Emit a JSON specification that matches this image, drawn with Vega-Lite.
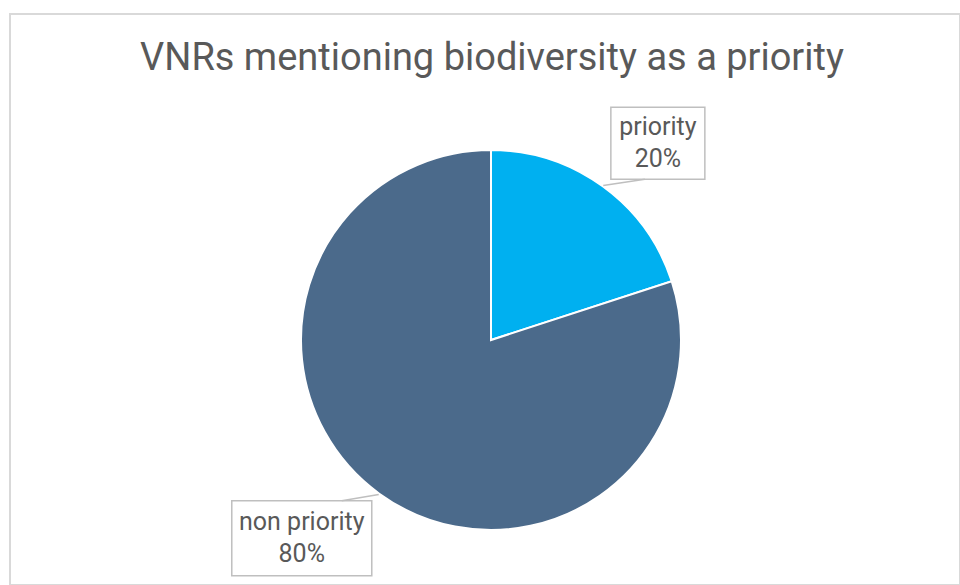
{
  "$schema": "https://vega.github.io/schema/vega-lite/v6.json",
  "autosize": "none",
  "width": 950,
  "height": 571,
  "padding": {"left": 10, "top": 14, "right": 0, "bottom": 0},
  "background": "white",
  "config": {"view": {"stroke": "#D9D9D9", "strokeWidth": 2}, "font": "Roboto"},
  "title": {
    "text": "VNRs mentioning biodiversity as a priority",
    "fontSize": 38,
    "fontWeight": "normal",
    "color": "#595959",
    "font": "Roboto",
    "anchor": "middle",
    "frame": "group",
    "baseline": "alphabetic",
    "offset": -94,
    "dx": 7
  },
  "data": {
    "values": [
      {"category": "priority", "value": 20},
      {"category": "non priority", "value": 80}
    ]
  },
  "transform": [
    {"calculate": "datum.category === 'priority' ? 0 : 1", "as": "order"},
    {"joinaggregate": [{"op": "sum", "field": "value", "as": "total"}]},
    {"window": [{"op": "sum", "field": "value", "as": "cum"}], "sort": [{"field": "order"}], "frame": [null, 0]},
    {"calculate": "2*PI*(datum.cum - datum.value/2)/datum.total", "as": "mid"},
    {"calculate": "datum.category === 'priority' ? 258 : 274", "as": "lr"},
    {"calculate": "datum.mid + (datum.category === 'priority' ? 0.075 : 0.134)", "as": "la"},
    {"calculate": "datum.lr*sin(datum.la)", "as": "lx"},
    {"calculate": "datum.lr*cos(datum.la)", "as": "ly"},
    {"calculate": "datum.category === 'priority' ? 47 : 70", "as": "hw"},
    {"calculate": "datum.category === 'priority' ? 36 : 37.5", "as": "hh"},
    {"calculate": "datum.lx - datum.hw", "as": "bx1"},
    {"calculate": "datum.lx + datum.hw", "as": "bx2"},
    {"calculate": "datum.ly - datum.hh", "as": "by1"},
    {"calculate": "datum.ly + datum.hh", "as": "by2"},
    {"calculate": "191*sin(datum.mid)", "as": "sx"},
    {"calculate": "191*cos(datum.mid)", "as": "sy"},
    {"calculate": "datum.lx + (datum.category === 'priority' ? -13 : 40)", "as": "ex"},
    {"calculate": "datum.ly + (datum.category === 'priority' ? -datum.hh : datum.hh)", "as": "ey"},
    {"calculate": "[datum.category, datum.value + '%']", "as": "label"}
  ],
  "layer": [
    {
      "mark": {"type": "arc", "outerRadius": 190, "stroke": "white", "strokeWidth": 2},
      "encoding": {
        "x": {"datum": 0, "type": "quantitative", "scale": {"domain": [-481, 469], "nice": false, "zero": false}, "axis": null},
        "y": {"datum": 0, "type": "quantitative", "scale": {"domain": [-245, 326], "nice": false, "zero": false}, "axis": null},
        "theta": {"field": "value", "type": "quantitative", "stack": true},
        "order": {"field": "order", "type": "quantitative"},
        "color": {
          "field": "category",
          "type": "nominal",
          "scale": {"domain": ["priority", "non priority"], "range": ["#00B0F0", "#4B6A8B"]},
          "legend": null
        }
      }
    },
    {
      "mark": {"type": "rect", "fill": "white", "stroke": "#BFBFBF", "strokeWidth": 1.5},
      "encoding": {
        "x": {"field": "bx1", "type": "quantitative"},
        "x2": {"field": "bx2"},
        "y": {"field": "by1", "type": "quantitative"},
        "y2": {"field": "by2"}
      }
    },
    {
      "mark": {"type": "rule", "stroke": "#BFBFBF", "strokeWidth": 1.5},
      "encoding": {
        "x": {"field": "sx", "type": "quantitative"},
        "x2": {"field": "ex"},
        "y": {"field": "sy", "type": "quantitative"},
        "y2": {"field": "ey"}
      }
    },
    {
      "mark": {"type": "text", "fontSize": 25, "color": "#595959", "align": "center", "baseline": "middle", "lineHeight": 32, "dy": -16, "font": "Roboto"},
      "encoding": {
        "x": {"field": "lx", "type": "quantitative"},
        "y": {"field": "ly", "type": "quantitative"},
        "text": {"field": "label"}
      }
    }
  ]
}
